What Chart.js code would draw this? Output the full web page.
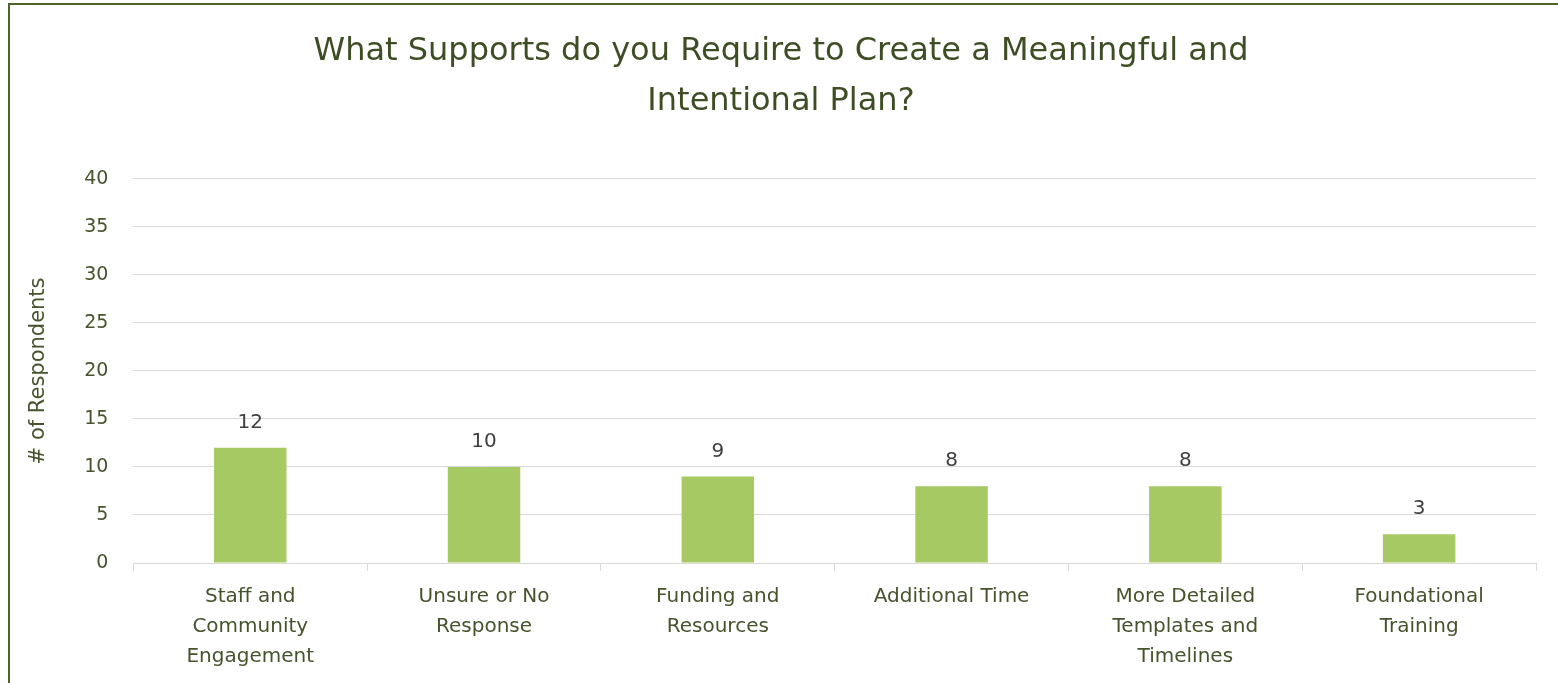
<!DOCTYPE html>
<html>
<head>
<meta charset="utf-8">
<title>Supports Survey</title>
<script src="https://cdn.jsdelivr.net/npm/chart.js@4"></script>
<style>
  html, body { margin: 0; padding: 0; background: #fff; overflow: hidden; }
  #wrap { position: relative; width: 1558px; height: 683px; }
  #frame {
    position: absolute; left: 8px; top: 3px; width: 1600px; height: 720px;
    border: 2px solid #4F6228; pointer-events: none;
  }
  canvas { position: absolute; left: 0; top: 0; }
</style>
</head>
<body>
<div id="wrap">
  <canvas id="supportsChart" width="1558" height="683"></canvas>
  <div id="frame"></div>
</div>
<script>
const categories = [
    ['Staff and', 'Community', 'Engagement'],
    ['Unsure or No', 'Response'],
    ['Funding and', 'Resources'],
    ['Additional Time'],
    ['More Detailed', 'Templates and', 'Timelines'],
    ['Foundational', 'Training']
];
const respondents = [12, 10, 9, 8, 8, 3];
const yTicks = [0, 5, 10, 15, 20, 25, 30, 35, 40];

const textColor = '#46532C';
const fontFamily = "'DejaVu Sans', sans-serif";

// writes each bar's value just above it
const valueLabels = {
    id: 'valueLabels',
    afterDatasetsDraw(chart) {
        const ctx = chart.ctx;
        const meta = chart.getDatasetMeta(0);
        ctx.save();
        ctx.font = '20px ' + fontFamily;
        ctx.fillStyle = '#404040';
        ctx.textAlign = 'center';
        ctx.textBaseline = 'bottom';
        meta.data.forEach((bar, i) => {
            ctx.fillText(String(respondents[i]), bar.x, bar.y - 15);
        });
        ctx.restore();
    }
};

const ctx = document.getElementById('supportsChart').getContext('2d');

const chart = new Chart(ctx, {
    type: 'bar',
    data: {
        labels: categories,
        datasets: [{
            label: '# of Respondents',
            data: respondents,
            backgroundColor: '#A6C964',
            borderWidth: 0,
            categoryPercentage: 1.0,
            barPercentage: 0.31
        }]
    },
    options: {
        responsive: false,
        animation: false,
        layout: {
            padding: { left: 26, right: 22, top: 27, bottom: 0 }
        },
        plugins: {
            legend: { display: false },
            tooltip: { enabled: false },
            title: {
                display: true,
                text: ['What Supports do you Require to Create a Meaningful and', 'Intentional Plan?'],
                color: '#3F4D25',
                font: { family: fontFamily, size: 32, weight: 'normal', lineHeight: 1.56 },
                padding: { top: 0, bottom: 52 }
            }
        },
        scales: {
            x: {
                grid: {
                    offset: true,
                    drawOnChartArea: false,
                    drawTicks: true,
                    tickLength: 8,
                    color: '#D9D9D9'
                },
                border: { display: true, color: '#D9D9D9' },
                ticks: {
                    color: textColor,
                    maxRotation: 0,
                    autoSkip: false,
                    padding: 11,
                    font: { family: fontFamily, size: 20, lineHeight: 1.5 }
                }
            },
            y: {
                min: 0,
                max: 40,
                afterBuildTicks(axis) {
                    axis.ticks = yTicks.map(v => ({ value: v }));
                },
                grid: {
                    color: '#D9D9D9',
                    drawTicks: false
                },
                border: { display: false },
                ticks: {
                    color: textColor,
                    padding: 25,
                    font: { family: fontFamily, size: 19 }
                },
                title: {
                    display: true,
                    text: '# of Respondents',
                    color: textColor,
                    font: { family: fontFamily, size: 21 },
                    padding: { top: 0, bottom: 8 }
                }
            }
        }
    },
    plugins: [valueLabels]
});
</script>
</body>
</html>
